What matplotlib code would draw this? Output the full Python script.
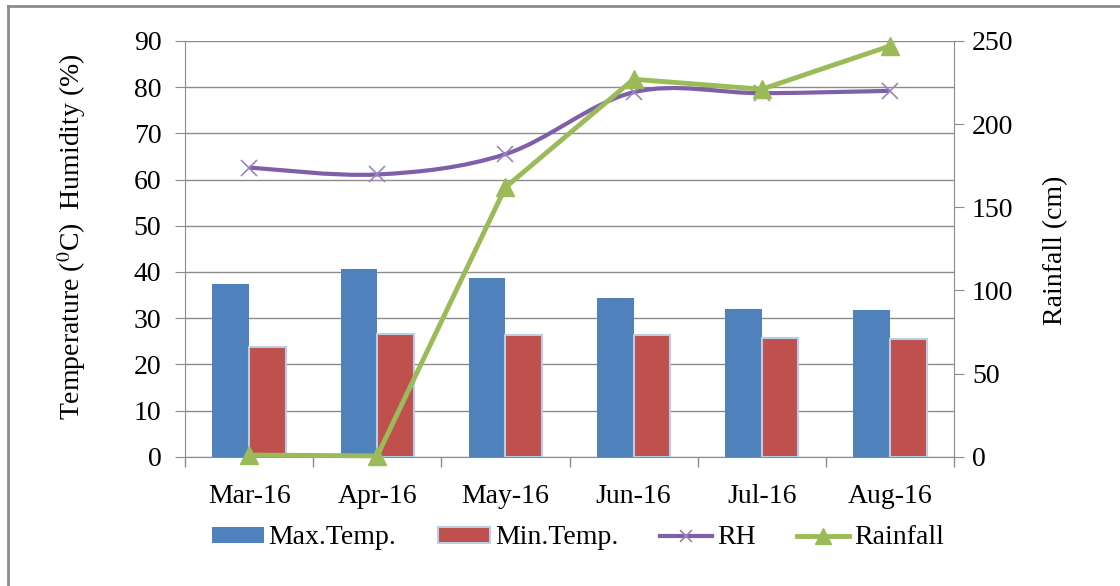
import matplotlib
matplotlib.use("Agg")
import matplotlib.pyplot as plt
import numpy as np
from matplotlib.path import Path
from matplotlib.patches import PathPatch, Patch
from matplotlib.lines import Line2D

months = ["Mar-16", "Apr-16", "May-16", "Jun-16", "Jul-16", "Aug-16"]
max_temp = [37.3, 40.6, 38.7, 34.3, 32.0, 31.7]
min_temp = [23.8, 26.6, 26.3, 26.3, 25.8, 25.5]
rh = [62.6, 61.1, 65.5, 78.9, 78.7, 79.2]
rainfall = [1.0, 0.5, 162, 227, 221, 247]

plt.rcParams['font.family'] = ['Liberation Serif', 'DejaVu Serif']
plt.rcParams['mathtext.fontset'] = 'stix'

W, H = 1120, 586
fig = plt.figure(figsize=(W / 100, H / 100), dpi=100)

# outer border (left and top visible)
fig.add_artist(Line2D([8 / W, 8 / W], [0, 1 - 6 / H], transform=fig.transFigure,
                      color='#8c8c8c', lw=2))
fig.add_artist(Line2D([8 / W, 1], [1 - 6 / H, 1 - 6 / H], transform=fig.transFigure,
                      color='#8c8c8c', lw=2))

left, right = 185 / W, 954 / W
bottom, top = 1 - 456.7 / H, 1 - 41 / H
ax = fig.add_axes([left, bottom, right - left, top - bottom])
ax2 = ax.twinx()

x = np.arange(len(months))
bw = 0.286
grid_c = '#8c8c8c'
FS = 20

ax.bar(x - bw / 2, max_temp, bw, color='#4F81BD', zorder=2, label='Max.Temp.')
ax.bar(x + bw / 2, min_temp, bw, color='#C0504D', edgecolor='#B9CDE5', linewidth=1.5,
       zorder=2, label='Min.Temp.')

# smooth RH line (Catmull-Rom -> cubic Bezier in data coordinates)
pts = np.column_stack([x, rh]).astype(float)
verts = [tuple(pts[0])]
codes = [Path.MOVETO]
n = len(pts)
for i in range(n - 1):
    p0 = pts[i - 1] if i > 0 else pts[i]
    p1, p2 = pts[i], pts[i + 1]
    p3 = pts[i + 2] if i + 2 < n else pts[i + 1]
    c1 = p1 + (p2 - p0) / 6.0
    c2 = p2 - (p3 - p1) / 6.0
    verts += [tuple(c1), tuple(c2), tuple(p2)]
    codes += [Path.CURVE4] * 3
ax.add_patch(PathPatch(Path(verts, codes), facecolor='none', edgecolor='#7F5FA8',
                       lw=3, zorder=3))
ax.plot(x, rh, linestyle='none', marker='x', markersize=11, mew=1.2,
        color='#9B85C0', zorder=4)

ax2.plot(x, rainfall, color='#9BBB59', lw=3.5, marker='^', markersize=13, zorder=5,
         clip_on=False)

ax.set_xlim(-0.5, len(months) - 0.5)
ax.set_ylim(0, 90)
ax.set_yticks(np.arange(0, 91, 10))
ax2.set_ylim(0, 250)
ax2.set_yticks(np.arange(0, 251, 50))

ax.set_xticks(x)
ax.set_xticklabels(months, fontsize=FS)
ax.set_xticks(np.arange(-0.5, len(months)), minor=True)
ax.tick_params(axis='x', which='major', length=0, pad=20)
ax.tick_params(axis='x', which='minor', length=7, color=grid_c, width=1)
ax.tick_params(axis='y', labelsize=FS, length=7, color=grid_c, pad=10)
ax2.tick_params(axis='y', labelsize=FS, length=7, color=grid_c, pad=6)

ax.yaxis.grid(True, color=grid_c, lw=1)
ax.set_axisbelow(True)
for a in (ax, ax2):
    a.spines['top'].set_visible(False)
    a.spines['left'].set_color(grid_c)
    a.spines['right'].set_color(grid_c)
    a.spines['bottom'].set_color(grid_c)
ax.spines['right'].set_visible(False)
ax2.spines['left'].set_visible(False)
ax2.spines['bottom'].set_visible(False)

ax.set_ylabel('Temperature ($^{0}$C)  Humidity (%)', fontsize=FS)
ax.yaxis.set_label_coords((88 - 185) / 769, (456.7 - 237) / 415.7)
ax2.set_ylabel('Rainfall (cm)', fontsize=FS)
ax2.yaxis.set_label_coords((1043 - 185) / 769, (456.7 - 250) / 415.7)

handles = [Patch(facecolor='#4F81BD', edgecolor='none'),
           Patch(facecolor='#C0504D', edgecolor='#B9CDE5', lw=1.5),
           Line2D([], [], color='#7F5FA8', lw=3, marker='x', markersize=9,
                  mec='#9B85C0', mew=1.2),
           Line2D([], [], color='#9BBB59', lw=3.5, marker='^', markersize=11)]
labels = ['Max.Temp.', 'Min.Temp.', 'RH', 'Rainfall']
fig.legend(handles, labels, loc='center', bbox_to_anchor=(578 / W, 1 - 538 / H),
           ncol=4, frameon=False, fontsize=FS, handlelength=1.87, handletextpad=0.18,
           columnspacing=1.5, handleheight=0.5, borderpad=0.2)

fig.savefig('out.png', dpi=100)
